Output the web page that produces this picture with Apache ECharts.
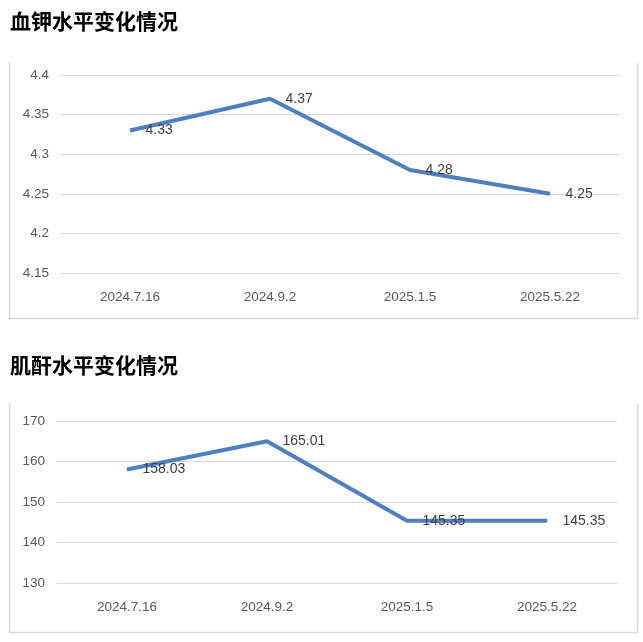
<!DOCTYPE html>
<html>
<head>
<meta charset="utf-8">
<script src="https://cdn.jsdelivr.net/npm/echarts@6/dist/echarts.min.js"></script>
<style>
html,body{margin:0;padding:0;background:#fff;}
#c{width:643px;height:642px;}
</style>
</head>
<body>
<div id="c"></div>
<script>
const categories = ['2024.7.16', '2024.9.2', '2025.1.5', '2025.5.22'];
const potassium = [4.33, 4.37, 4.28, 4.25];
const creatinine = [158.03, 165.01, 145.35, 145.35];
const titles = ['血钾水平变化情况', '肌酐水平变化情况'];

const chart = echarts.init(document.getElementById('c'));
const lineColor = '#4f7fbe';
const gridColor = '#d9d9d9';
const axisFont = { color: '#595959', fontSize: 13.5, fontFamily: 'Liberation Sans' };

function series(data, idx, fmt) {
  return {
    type: 'line',
    xAxisIndex: idx, yAxisIndex: idx,
    data: data,
    symbol: 'circle', symbolSize: 1,
    itemStyle: { color: lineColor },
    lineStyle: { color: lineColor, width: 4 },
    label: {
      show: true, position: 'right', distance: 15,
      color: '#404040', fontSize: 14, fontFamily: 'Liberation Sans',
      formatter: p => fmt(p.value)
    },
    animation: false
  };
}

const borderStyle = { stroke: gridColor, lineWidth: 1.5 };
const titleStyle = { fontSize: 21, fontWeight: 'bold', color: '#000', fontFamily: 'Noto Sans CJK SC' };

chart.setOption({
  animation: false,
  title: [
    { text: titles[0], left: 5, top: 6, textStyle: titleStyle },
    { text: titles[1], left: 5, top: 350, textStyle: titleStyle }
  ],
  graphic: [
    { type: 'polyline', shape: { points: [[9.5, 62], [9.5, 318.5], [637.5, 318.5], [637.5, 63]] }, style: Object.assign({ fill: null }, borderStyle), silent: true },
    { type: 'polyline', shape: { points: [[9.5, 403], [9.5, 632.5], [637.5, 632.5], [637.5, 404]] }, style: Object.assign({ fill: null }, borderStyle), silent: true }
  ],
  grid: [
    { left: 60, right: 23, top: 75, height: 198 },
    { left: 57, right: 26, top: 421, height: 162 }
  ],
  xAxis: [0, 1].map(i => ({
    type: 'category', gridIndex: i, data: categories, boundaryGap: true,
    axisLine: { show: true, lineStyle: { color: gridColor, width: 1 } },
    axisTick: { show: false },
    axisLabel: Object.assign({ margin: 17 }, axisFont)
  })),
  yAxis: [
    {
      type: 'value', gridIndex: 0, min: 4.15, max: 4.4, interval: 0.05,
      axisLine: { show: false }, axisTick: { show: false },
      splitLine: { lineStyle: { color: gridColor, width: 1 } },
      axisLabel: Object.assign({ margin: 11, formatter: v => String(+v.toFixed(2)) }, axisFont)
    },
    {
      type: 'value', gridIndex: 1, min: 130, max: 170, interval: 10,
      axisLine: { show: false }, axisTick: { show: false },
      splitLine: { lineStyle: { color: gridColor, width: 1 } },
      axisLabel: Object.assign({ margin: 12 }, axisFont)
    }
  ],
  series: [
    series(potassium, 0, v => String(v)),
    series(creatinine, 1, v => v.toFixed(2))
  ]
});
</script>
</body>
</html>
